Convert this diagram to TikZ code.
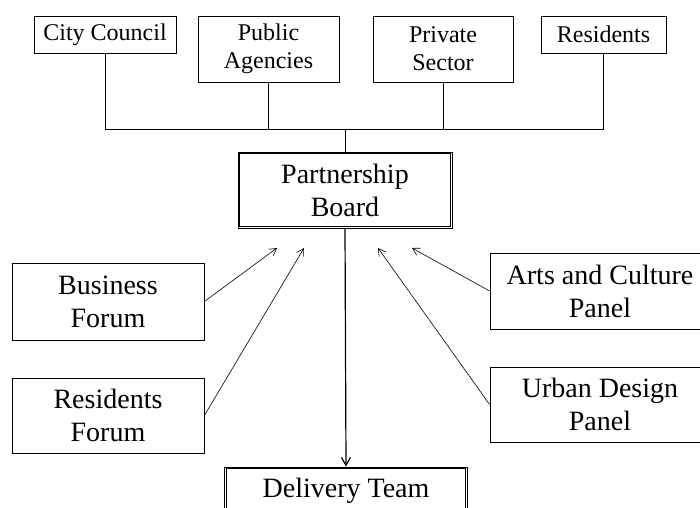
\documentclass[tikz,border=0pt]{standalone}
\usepackage{fontspec}
\setmainfont{Liberation Serif}
\usetikzlibrary{arrows.meta}

\begin{document}
\begin{tikzpicture}[x=1pt, y=-1pt,
	box/.style={draw, line width=0.8pt, align=center, inner sep=0pt},
	small/.style={font=\fontsize{24}{28}\selectfont},
	big/.style={font=\fontsize{28}{33}\selectfont},
	link/.style={line width=0.9pt},
	feed/.style={line width=0.6pt, -{Straight Barb[length=7pt, width=8pt]}}]
	\def\gap{2.2pt}
	\useasboundingbox (0,0) rectangle (700,507);
	\clip (0,0) rectangle (700,507);
	
	\node[box, small, minimum width=142pt, minimum height=37pt] (council) at (105,34.5) {City Council};
	\node[box, small, minimum width=141pt, minimum height=66pt] (agencies) at (268.5,49) {Public\\Agencies};
	\node[box, small, minimum width=140pt, minimum height=66pt] (private) at (443,49) {Private\\Sector};
	\node[box, small, minimum width=125pt, minimum height=37pt] (residents) at (603.5,34.5) {Residents};
	
	\node[box, big, minimum width=214pt, minimum height=76pt] (partners) at (345,190) {Partnership\\Board};
	\node[box, big, minimum width=243pt, minimum height=48pt] (delivery) at (346,491) {Delivery Team};
	\foreach \n in {partners, delivery}	{
		\draw[line width=0.7pt] ([shift={(\gap,-\gap)}]\n.north west) rectangle ([shift={(-\gap,\gap)}]\n.south east);
	}
	
	\node[box, big, minimum width=192pt, minimum height=77pt] (business) at (108,301.5) {Business\\Forum};
	\node[box, big, minimum width=192pt, minimum height=75pt] (resforum) at (108,415.5) {Residents\\Forum};
	\node[box, big, minimum width=220pt, minimum height=76pt] (arts) at (600,291) {Arts and Culture\\Panel};
	\node[box, big, minimum width=220pt, minimum height=75pt] (urban) at (600,404.5) {Urban Design\\Panel};
	
	\coordinate (hub) at (345,129);
	\draw[link] (council.south) -- (council.south |- hub) -- (residents.south |- hub) -- (residents.south);
	\foreach \n in {agencies, private}	{
		\draw[link] (\n.south) -- (\n.south |- hub);
	}
	\draw[link] (hub) -- (partners.north);
	
	\coordinate (tipA) at (277,248);
	\coordinate (tipB) at (304,248);
	\coordinate (tipC) at (378,248);
	\coordinate (tipD) at (412,248);
	\draw[feed] (business.east) -- (tipA);
	\draw[feed] (resforum.east) -- (tipB);
	\draw[feed] (urban.west) -- (tipC);
	\draw[feed] (arts.west) -- (tipD);
	
	\draw[line width=1.2pt, -{Straight Barb[length=8pt, width=9pt]}] (partners.south) -- (delivery.north);
\end{tikzpicture}
\end{document}
